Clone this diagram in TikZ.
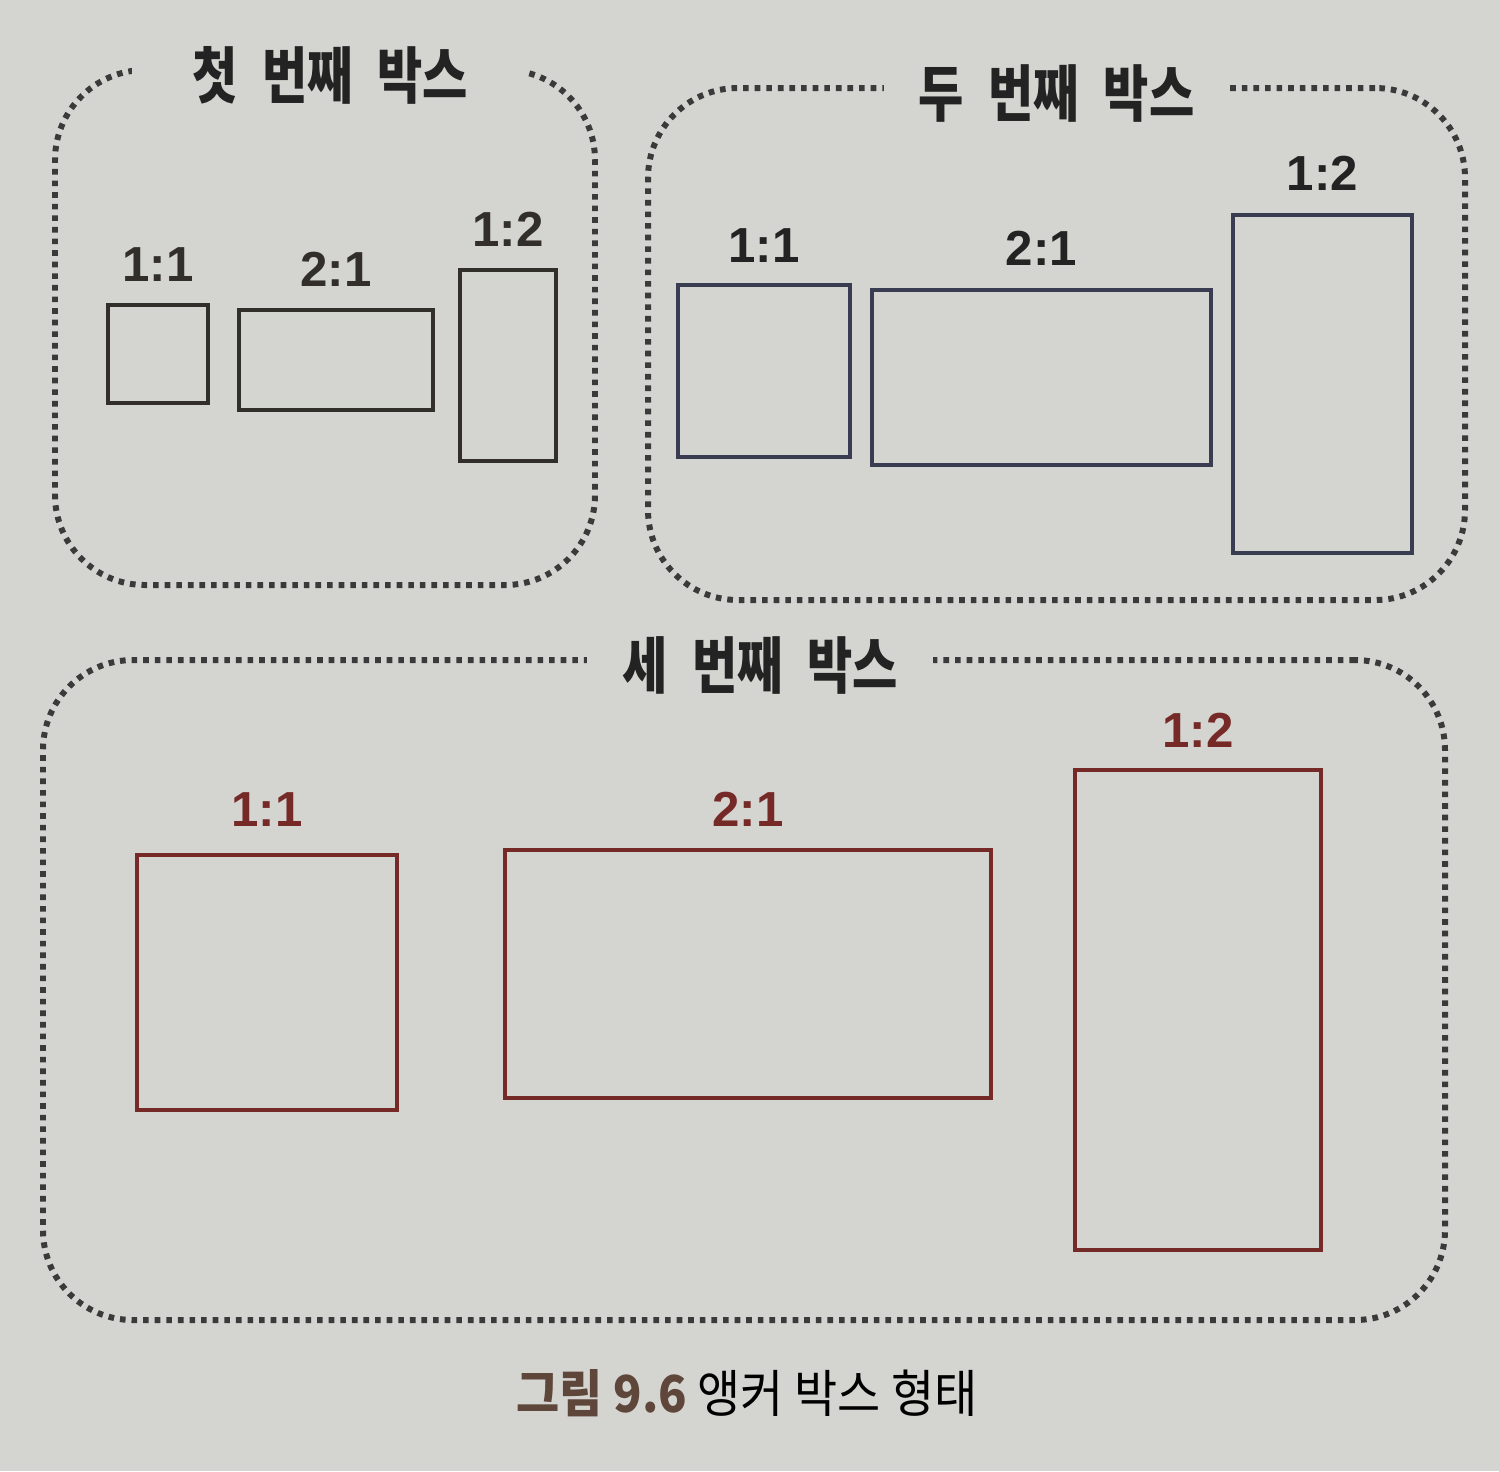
\documentclass[tikz,border=0pt]{standalone}
\usepackage{fontspec}
\setmainfont{Liberation Sans}
\newfontfamily\krfont[FakeStretch=0.8, WordSpace=2.2]{Noto Sans CJK KR}
\newfontfamily\capfont[FakeStretch=0.92]{Noto Sans CJK KR}
\usetikzlibrary{positioning}
\definecolor{paper}{RGB}{212,212,208}
\definecolor{frameink}{RGB}{58,58,58}
\definecolor{inkone}{RGB}{50,47,42}
\definecolor{inktwo}{RGB}{58,60,82}
\definecolor{inkthree}{RGB}{118,42,40}
\definecolor{titleink}{RGB}{35,35,35}
\definecolor{capbrown}{RGB}{95,70,58}
\tikzstyle{frame} = [rectangle, rounded corners=0.9cm, draw=frameink, line width=1.7pt, dash pattern=on 1.6pt off 1.7pt, inner sep=0pt]
\tikzstyle{title} = [fill=paper, inner xsep=0.35cm, inner ysep=0pt, yshift=-0.08cm, text=titleink, font=\krfont\bfseries\fontsize{17.5}{20}\selectfont]
\tikzstyle{anchorbox} = [rectangle, line width=1.2pt, inner sep=0pt, outer sep=0pt]
\tikzstyle{ratio} = [inner sep=0pt, font=\bfseries\fontsize{14}{16}\selectfont]

\begin{document}
\begin{tikzpicture}[x=1cm, y=-1cm]
    \fill[paper] (0,0) rectangle (14.99,14.71);
    \useasboundingbox (0,0) rectangle (14.99,14.71);

    % dotted frames
    \node (frame1) [frame, minimum width=5.40cm, minimum height=5.15cm] at (3.25,3.275) {};
    \node (frame2) [frame, minimum width=8.17cm, minimum height=5.12cm] at (10.565,3.44) {};
    \node (frame3) [frame, minimum width=14.02cm, minimum height=6.60cm] at (7.44,9.90) {};

    \node (title1) [title, inner xsep=0.6cm] at ([xshift=0.05cm]frame1.north) {첫 번째 박스};
    \node (title2) [title] at (frame2.north) {두 번째 박스};
    \node (title3) [title] at ([xshift=0.16cm]frame3.north) {세 번째 박스};

    % first box
    \node (sq1) [anchorbox, draw=inkone, minimum width=1.00cm, minimum height=0.98cm] at (1.58,3.54) {};
    \node (wide1) [anchorbox, draw=inkone, minimum width=1.94cm, minimum height=1.00cm] at (3.36,3.60) {};
    \node (tall1) [anchorbox, draw=inkone, minimum width=0.96cm, minimum height=1.91cm] at (5.08,3.655) {};
    \node [ratio, text=inkone, above=0.23cm of sq1] {1:1};
    \node [ratio, text=inkone, above=0.23cm of wide1] {2:1};
    \node [ratio, text=inkone, above=0.23cm of tall1] {1:2};

    % second box
    \node (sq2) [anchorbox, draw=inktwo, minimum width=1.72cm, minimum height=1.72cm] at (7.64,3.71) {};
    \node (wide2) [anchorbox, draw=inktwo, minimum width=3.39cm, minimum height=1.75cm] at (10.415,3.775) {};
    \node (tall2) [anchorbox, draw=inktwo, minimum width=1.79cm, minimum height=3.38cm] at (13.225,3.84) {};
    \node [ratio, text=titleink, above=0.22cm of sq2] {1:1};
    \node [ratio, text=titleink, above=0.24cm of wide2] {2:1};
    \node [ratio, text=titleink, above=0.24cm of tall2] {1:2};

    % third box
    \node (sq3) [anchorbox, draw=inkthree, minimum width=2.60cm, minimum height=2.55cm] at (2.67,9.825) {};
    \node (wide3) [anchorbox, draw=inkthree, minimum width=4.86cm, minimum height=2.48cm] at (7.48,9.74) {};
    \node (tall3) [anchorbox, draw=inkthree, minimum width=2.46cm, minimum height=4.80cm] at (11.98,10.10) {};
    \node [ratio, text=inkthree, above=0.28cm of sq3] {1:1};
    \node [ratio, text=inkthree, above=0.23cm of wide3] {2:1};
    \node [ratio, text=inkthree, above=0.22cm of tall3] {1:2};

    \node (caption) [font=\capfont\fontsize{14.5}{16}\selectfont] at (7.47,13.93)
        {{\bfseries\color{capbrown}그림 9.6} 앵커 박스 형태};
\end{tikzpicture}
\end{document}
